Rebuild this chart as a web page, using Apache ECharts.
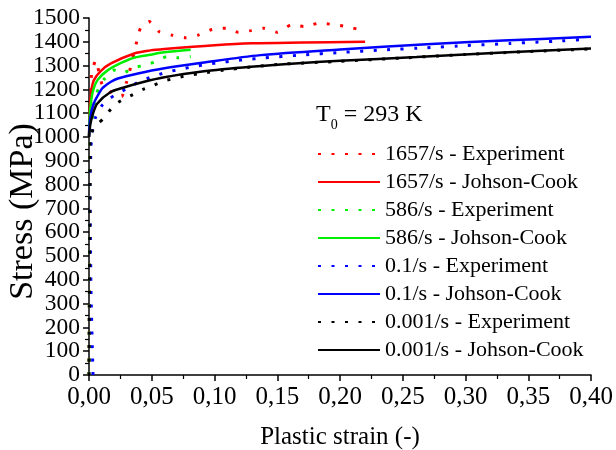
<!DOCTYPE html>
<html>
<head>
<meta charset="utf-8">
<script src="https://cdn.jsdelivr.net/npm/echarts@6/dist/echarts.min.js"></script>
<style>html,body{margin:0;padding:0;background:#fff;}#c{width:616px;height:450px;}</style>
</head>
<body>
<div id="c"></div>
<script>
// ---- data ----
const seriesNames = [
  '1657/s - Experiment', '1657/s - Johson-Cook',
  '586/s - Experiment', '586/s - Johson-Cook',
  '0.1/s - Experiment', '0.1/s - Johson-Cook',
  '0.001/s - Experiment', '0.001/s - Johson-Cook'
];
const xTicks = [0, 0.05, 0.10, 0.15, 0.20, 0.25, 0.30, 0.35, 0.40];
const yTicks = [0, 100, 200, 300, 400, 500, 600, 700, 800, 900, 1000, 1100, 1200, 1300, 1400, 1500];

const exp1657Strain = [0, 0.0005, 0.001, 0.002, 0.0037, 0.0053, 0.0103, 0.0137, 0.017, 0.026, 0.030, 0.033, 0.038, 0.041, 0.048, 0.056, 0.066, 0.077, 0.087, 0.098, 0.109, 0.119, 0.129, 0.139, 0.150, 0.161, 0.172, 0.183, 0.194, 0.205, 0.215];
const exp1657Stress = [0, 500, 1000, 1274, 1300, 1323, 1222, 1212, 1190, 1170, 1232, 1290, 1400, 1457, 1485, 1442, 1428, 1417, 1428, 1452, 1457, 1440, 1447, 1457, 1440, 1471, 1464, 1478, 1473, 1464, 1452];
const jc1657Strain = [0, 0.0005, 0.001, 0.002, 0.004, 0.0095, 0.0175, 0.036, 0.049, 0.06, 0.1, 0.13, 0.17, 0.22];
const jc1657Stress = [1000, 1100, 1150, 1200, 1240, 1278, 1309, 1351, 1364, 1370, 1386, 1394, 1397, 1400];

const exp586Strain = [0, 0.0005, 0.001, 0.003, 0.0059, 0.0117, 0.0148, 0.02, 0.027, 0.035, 0.045, 0.053, 0.062, 0.071, 0.081];
const exp586Stress = [0, 500, 1000, 1100, 1183, 1240, 1260, 1281, 1268, 1290, 1303, 1316, 1338, 1333, 1338];
const jc586Strain = [0, 0.0005, 0.001, 0.003, 0.0069, 0.0148, 0.026, 0.0365, 0.049, 0.06, 0.081];
const jc586Stress = [1000, 1080, 1120, 1190, 1240, 1280, 1312, 1334, 1346, 1356, 1367];

const exp01Strain = [0.0032, 0.0016, 0.0008, 0.002, 0.005, 0.01, 0.016, 0.022, 0.031, 0.04, 0.05, 0.061, 0.072, 0.083, 0.094, 0.105, 0.115, 0.126, 0.137, 0.17, 0.2, 0.235, 0.269, 0.3, 0.335, 0.37, 0.396];
const exp01Stress = [0, 350, 800, 1000, 1080, 1130, 1160, 1180, 1206, 1232, 1253, 1271, 1284, 1295, 1306, 1313, 1320, 1326, 1331, 1345, 1355, 1366, 1375, 1384, 1393, 1402, 1410];
const jc01Strain = [0, 0.001, 0.0037, 0.0095, 0.0117, 0.0175, 0.023, 0.039, 0.059, 0.09, 0.1365, 0.2, 0.269, 0.33, 0.4];
const jc01Stress = [1000, 1080, 1140, 1197, 1210, 1232, 1246, 1267, 1288, 1312, 1344, 1368, 1390, 1405, 1421];

const exp0001Strain = [0, 0.0005, 0.001, 0.004, 0.008, 0.0117, 0.02, 0.027, 0.035, 0.043, 0.052, 0.06, 0.068, 0.077, 0.09, 0.11, 0.15, 0.2, 0.25, 0.3, 0.35, 0.4];
const exp0001Stress = [0, 500, 1000, 1040, 1060, 1078, 1134, 1157, 1178, 1200, 1218, 1236, 1246, 1257, 1268, 1283, 1305, 1318, 1332, 1347, 1359, 1370];
const jc0001Strain = [0, 0.001, 0.003, 0.0065, 0.017, 0.029, 0.044, 0.059, 0.09, 0.129, 0.17, 0.2, 0.261, 0.33, 0.4];
const jc0001Stress = [1000, 1050, 1095, 1140, 1188, 1210, 1232, 1250, 1275, 1295, 1311, 1320, 1336, 1355, 1372];

const colors = ['#ff0000', '#ff0000', '#00ee00', '#00ee00', '#0000ff', '#0000ff', '#000000', '#000000'];

// ---- build ----
function pairs(xs, ys) { return xs.map((x, i) => [x, ys[i]]); }
const dataSets = [
  pairs(exp1657Strain, exp1657Stress), pairs(jc1657Strain, jc1657Stress),
  pairs(exp586Strain, exp586Stress), pairs(jc586Strain, jc586Stress),
  pairs(exp01Strain, exp01Stress), pairs(jc01Strain, jc01Stress),
  pairs(exp0001Strain, exp0001Stress), pairs(jc0001Strain, jc0001Stress)
];
const FONT = '"Liberation Serif", "Times New Roman", serif';

const series = seriesNames.map((name, i) => {
  const dotted = i % 2 === 0;
  return {
    name: name,
    type: 'line',
    data: dataSets[i],
    showSymbol: false,
    symbol: 'none',
    smooth: dotted ? 0.15 : 0.3,
    lineStyle: dotted
      ? { color: colors[i], width: 3, type: [3, 10.5] }
      : { color: colors[i], width: 2.5, type: 'solid' },
    itemStyle: { color: colors[i] },
    z: 2 + i,
    silent: true
  };
});

const chart = echarts.init(document.getElementById('c'), null, { renderer: 'canvas' });
chart.setOption({
  animation: false,
  backgroundColor: '#ffffff',
  grid: { left: 89, right: 25, top: 18, bottom: 75, containLabel: false, outerBoundsMode: 'none' },
  title: {
    left: 311, top: 98,
    text: '{a|T}{b|0}{a| = 293 K}',
    textStyle: {
      fontWeight: 'normal',
      rich: {
        a: { fontFamily: FONT, fontSize: 24, fontWeight: 'normal', color: '#000', verticalAlign: 'bottom' },
        b: { fontFamily: FONT, fontSize: 14, fontWeight: 'normal', color: '#000', verticalAlign: 'bottom', padding: [0, 0, -5, 0] }
      }
    }
  },
  legend: {
    orient: 'vertical',
    left: 312, top: 138,
    itemWidth: 62, itemHeight: 12, itemGap: 6,
    itemStyle: { opacity: 0, borderWidth: 0 },
    textStyle: { fontFamily: FONT, fontSize: 22, color: '#000', lineHeight: 22 },
    data: seriesNames
  },
  xAxis: {
    type: 'value',
    min: 0, max: 0.4, interval: 0.05,
    name: 'Plastic strain (-)',
    nameLocation: 'middle',
    nameGap: 50,
    nameMoveOverlap: false,
    nameTextStyle: { fontFamily: FONT, fontSize: 25, color: '#000' },
    axisLine: { show: true, lineStyle: { color: '#000', width: 1.5 } },
    axisTick: { show: true, inside: false, length: 6, lineStyle: { color: '#000', width: 1.5 } },
    minorTick: { show: true, splitNumber: 2, length: 4, lineStyle: { color: '#000', width: 1.2 } },
    splitLine: { show: false },
    axisLabel: {
      margin: 10, showMinLabel: true, showMaxLabel: true, hideOverlap: false,
      fontFamily: FONT, fontSize: 25, color: '#000',
      formatter: v => v.toFixed(2).replace('.', ',')
    }
  },
  yAxis: {
    type: 'value',
    min: 0, max: 1500, interval: 100,
    name: 'Stress (MPa)',
    nameLocation: 'middle',
    nameGap: 49,
    nameMoveOverlap: false,
    nameTextStyle: { fontFamily: FONT, fontSize: 34, color: '#000', padding: [0, 30, 0, 0] },
    axisLine: { show: true, lineStyle: { color: '#000', width: 1.5 } },
    axisTick: { show: true, inside: false, length: 6, lineStyle: { color: '#000', width: 1.5 } },
    minorTick: { show: true, splitNumber: 2, length: 4, lineStyle: { color: '#000', width: 1.2 } },
    splitLine: { show: false },
    axisLabel: {
      margin: 9, showMinLabel: true, showMaxLabel: true, hideOverlap: false,
      fontFamily: FONT, fontSize: 23.5, color: '#000',
      formatter: v => String(v)
    }
  },
  series: series
});
</script>
</body>
</html>
